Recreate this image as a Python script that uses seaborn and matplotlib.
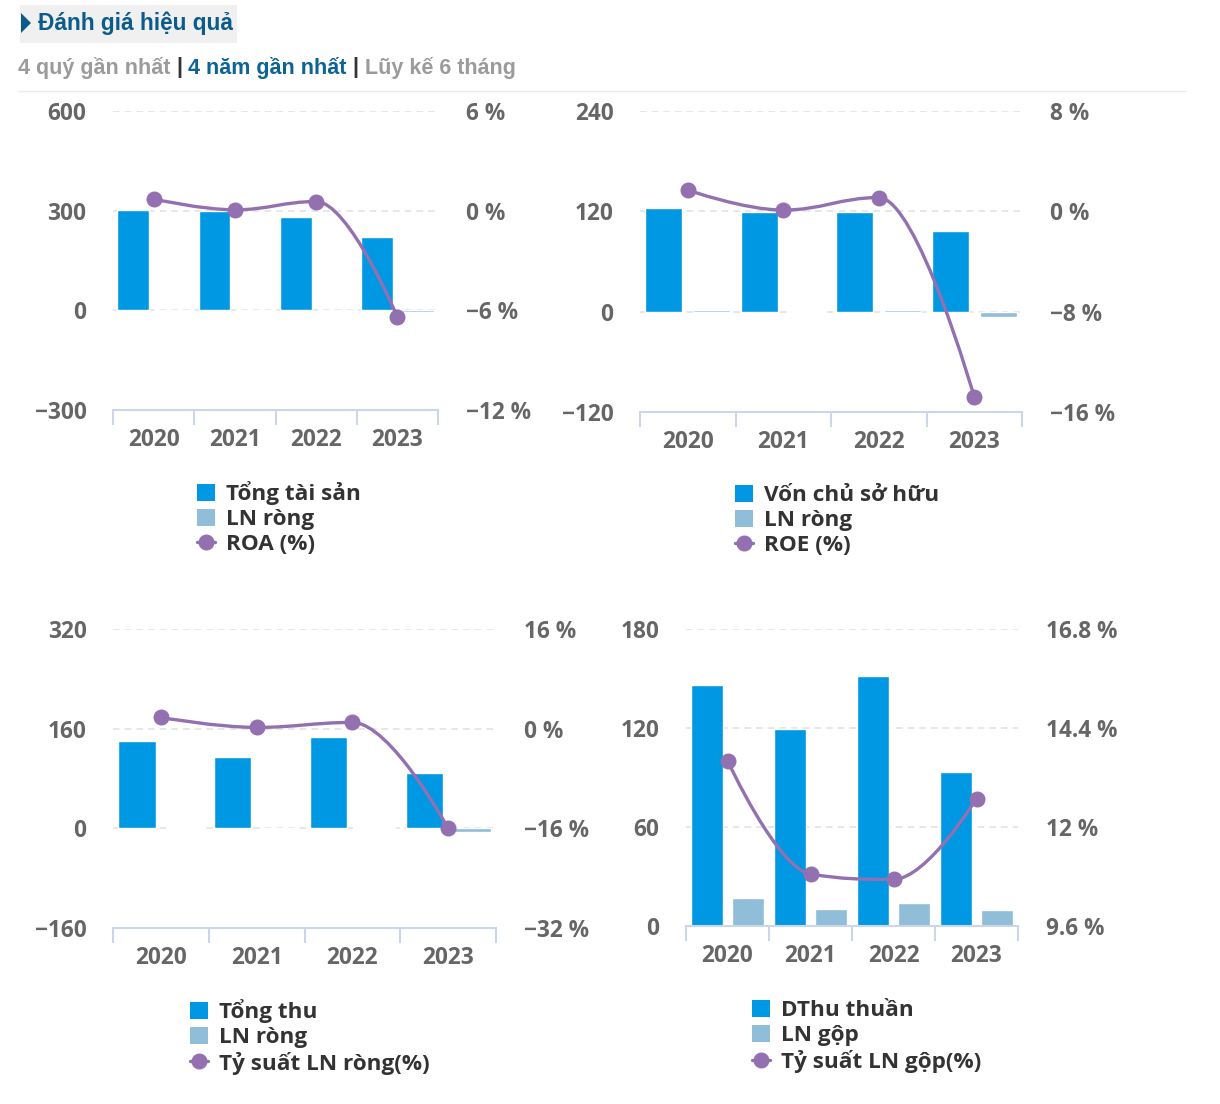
"""
Danh gia hieu qua - 4 nam gan nhat
Four bar + spline panels recreated with seaborn / matplotlib
"""

import matplotlib
matplotlib.use('Agg')
import matplotlib.pyplot as plt
import seaborn as sns
import pandas as pd
from matplotlib.path import Path
from matplotlib.patches import PathPatch, Patch, Rectangle, Polygon
from matplotlib.lines import Line2D
from matplotlib.ticker import FuncFormatter, FixedLocator

# ---- data -------------------------------------------------------------
years = ['2020', '2021', '2022', '2023']

tong_tai_san = [301, 300, 280, 220]
von_chu_so_huu = [124, 119.6, 119.6, 96]
tong_thu = [141, 115, 147, 89]
ln_rong = [2.1, 0.2, 1.5, -6]
roa = [0.7, 0.05, 0.55, -6.4]
roe = [1.7, 0.1, 1.1, -14.8]
ty_suat_ln_rong = [1.8, 0.2, 1.0, -16.0]

dthu_thuan = [146, 119.6, 151.3, 93.3]
ln_gop = [17, 10.5, 13.7, 9.5]
ty_suat_ln_gop = [13.61, 10.86, 10.73, 12.69]

left_ticks = [
    [-300, 0, 300, 600],
    [-120, 0, 120, 240],
    [-160, 0, 160, 320],
    [0, 60, 120, 180],
]
right_ticks = [
    [-12, -6, 0, 6],
    [-16, -8, 0, 8],
    [-32, -16, 0, 16],
    [9.6, 12, 14.4, 16.8],
]

# ---- style ------------------------------------------------------------
W, H = 1220, 1104
MAIN_BLUE = '#0098e3'
LN_BLUE = '#90bdd8'
PURPLE = '#9370b0'
AXIS_LINE = '#ccd6eb'
TICK_COLOR = '#666666'
TICK_SIZE = 16.3
LEGEND_SIZE = 16.2

sns.set_theme(style='white')
plt.rcParams['font.family'] = ['Open Sans', 'DejaVu Sans']
plt.rcParams['font.weight'] = 'bold'


def spline_path(xs, ys, smoothing=1.5):
    """Highcharts-like spline as cubic bezier path through the data points"""
    denom = smoothing + 1
    n = len(xs)
    right_cont = [None] * n
    left_cont = [None] * n
    for i in range(1, n - 1):
        x, y = xs[i], ys[i]
        lx, ly = xs[i - 1], ys[i - 1]
        nx, ny = xs[i + 1], ys[i + 1]
        lcx = (smoothing * x + lx) / denom
        lcy = (smoothing * y + ly) / denom
        rcx = (smoothing * x + nx) / denom
        rcy = (smoothing * y + ny) / denom
        corr = 0
        if rcx != lcx:
            corr = (rcy - lcy) * (rcx - x) / (rcx - lcx) + y - rcy
        lcy += corr
        rcy += corr
        if lcy > ly and lcy > y:
            lcy = max(ly, y)
            rcy = 2 * y - lcy
        elif lcy < ly and lcy < y:
            lcy = min(ly, y)
            rcy = 2 * y - lcy
        if rcy > ny and rcy > y:
            rcy = max(ny, y)
            lcy = 2 * y - rcy
        elif rcy < ny and rcy < y:
            rcy = min(ny, y)
            lcy = 2 * y - rcy
        left_cont[i] = (lcx, lcy)
        right_cont[i] = (rcx, rcy)

    verts = [(xs[0], ys[0])]
    codes = [Path.MOVETO]
    for i in range(1, n):
        c1 = right_cont[i - 1] or (xs[i - 1], ys[i - 1])
        c2 = left_cont[i] or (xs[i], ys[i])
        verts += [c1, c2, (xs[i], ys[i])]
        codes += [Path.CURVE4] * 3
    return Path(verts, codes)


def px_rect(left, top, right, bottom):
    return [left / W, 1 - bottom / H, (right - left) / W, (bottom - top) / H]


def draw_panel(fig, rect, bar_names, bar_values, line_name, line_values,
               lticks, rticks, legend_xy):
    ax = fig.add_axes(rect)

    rows = []
    for name, vals in zip(bar_names, bar_values):
        for yr, v in zip(years, vals):
            rows.append({'year': yr, 'series': name, 'value': v})
    df = pd.DataFrame(rows)

    sns.barplot(data=df, x='year', y='value', hue='series',
                palette=[MAIN_BLUE, LN_BLUE], width=1.0, gap=0.22,
                errorbar=None, saturation=1, legend=False, ax=ax, zorder=2)

    ax.set_xlim(-0.5, len(years) - 0.5)
    ax.set_ylim(lticks[0], lticks[-1])
    ax.set_yticks(lticks)
    ax.yaxis.set_major_formatter(FuncFormatter(
        lambda v, p: f'{v:g}'.replace('-', '\u2212')))
    ax.set_xlabel('')
    ax.set_ylabel('')

    for y in lticks[1:]:
        ax.axhline(y, color='#e3e3e3', lw=1.2, ls=(0, (4, 3)), zorder=0)

    for s in ['left', 'right', 'top']:
        ax.spines[s].set_visible(False)
    ax.spines['bottom'].set_color(AXIS_LINE)
    ax.spines['bottom'].set_linewidth(1.5)

    ax.xaxis.set_minor_locator(FixedLocator([i - 0.5 for i in range(len(years) + 1)]))
    ax.tick_params(axis='x', which='minor', length=11, width=1.5,
                   color=AXIS_LINE, direction='out', bottom=True)
    ax.tick_params(axis='x', which='major', length=0, pad=13,
                   labelsize=TICK_SIZE, labelcolor=TICK_COLOR)
    ax.tick_params(axis='y', length=0, pad=19, labelsize=TICK_SIZE,
                   labelcolor=TICK_COLOR)

    ax2 = ax.twinx()
    ax2.set_ylim(rticks[0], rticks[-1])
    ax2.set_yticks(rticks)
    ax2.yaxis.set_major_formatter(FuncFormatter(
        lambda v, p: f'{v:g} %'.replace('-', '\u2212')))
    ax2.tick_params(axis='y', length=0, pad=20, labelsize=TICK_SIZE,
                    labelcolor=TICK_COLOR)
    for s in ax2.spines.values():
        s.set_visible(False)
    ax2.grid(False)

    xs = list(range(len(years)))
    path = spline_path(xs, line_values)
    ax2.add_patch(PathPatch(path, fill=False, edgecolor=PURPLE, lw=2.4,
                            zorder=3, capstyle='round', joinstyle='round'))
    ax2.plot(xs, line_values, ls='none', marker='o', ms=10.5, color=PURPLE,
             zorder=4, clip_on=False)

    handles = [
        Patch(facecolor=MAIN_BLUE, edgecolor='none'),
        Patch(facecolor=LN_BLUE, edgecolor='none'),
        Line2D([0], [0], color=PURPLE, lw=2.4, marker='o', ms=10.5),
    ]
    fig.legend(handles, list(bar_names) + [line_name],
               loc='upper left',
               bbox_to_anchor=(legend_xy[0] / W, 1 - legend_xy[1] / H),
               frameon=False, fontsize=LEGEND_SIZE, labelcolor='#333333',
               handlelength=0.8, handleheight=0.8, handletextpad=0.5,
               labelspacing=0.16, borderpad=0, borderaxespad=0)
    return ax, ax2


fig = plt.figure(figsize=(W / 100, H / 100), dpi=100)

# ---- header -----------------------------------------------------------
fig.add_artist(Rectangle((20 / W, 1 - 43 / H), 217 / W, 38 / H,
                         transform=fig.transFigure, facecolor='#f0f0f0',
                         edgecolor='none'))
fig.add_artist(Polygon([(21 / W, 1 - 13 / H), (21 / W, 1 - 33 / H),
                        (31 / W, 1 - 23 / H)], closed=True,
                       transform=fig.transFigure, facecolor='#0b5c8d',
                       edgecolor='none'))
fig.text(38 / W, 1 - 23 / H, 'Đánh giá hiệu quả', ha='left', va='center',
         fontsize=16.3, fontweight='bold', color='#0b5c8d',
         family=['Liberation Sans', 'DejaVu Sans'])

fig.add_artist(Line2D([18 / W, 1186 / W], [1 - 91 / H, 1 - 91 / H],
                      transform=fig.transFigure, color='#ebebeb', lw=1))

renderer = fig.canvas.get_renderer()
x_cursor = 18
parts = [('4 quý gần nhất ', '#9b9b9b'), ('|', '#333333'),
         (' 4 năm gần nhất ', '#0b6396'), ('|', '#333333'),
         (' Lũy kế 6 tháng', '#9b9b9b')]
for txt, col in parts:
    t = fig.text(x_cursor / W, 1 - 68 / H, txt, ha='left', va='center',
                 fontsize=15.5, fontweight='bold', color=col,
                 family=['Liberation Sans', 'DejaVu Sans'])
    bb = t.get_window_extent(renderer)
    x_cursor += bb.width

# ---- panels -----------------------------------------------------------
draw_panel(fig, px_rect(113, 111, 438, 410),
           ['Tổng tài sản', 'LN ròng'], [tong_tai_san, ln_rong],
           'ROA (%)', roa, left_ticks[0], right_ticks[0], (197, 481))

draw_panel(fig, px_rect(640, 111, 1022, 412),
           ['Vốn chủ sở hữu', 'LN ròng'], [von_chu_so_huu, ln_rong],
           'ROE (%)', roe, left_ticks[1], right_ticks[1], (735, 485))

draw_panel(fig, px_rect(113, 629, 496, 928),
           ['Tổng thu', 'LN ròng'], [tong_thu, ln_rong],
           'Tỷ suất LN ròng(%)', ty_suat_ln_rong, left_ticks[2],
           right_ticks[2], (190, 999))

draw_panel(fig, px_rect(686, 629, 1018, 926),
           ['DThu thuần', 'LN gộp'], [dthu_thuan, ln_gop],
           'Tỷ suất LN gộp(%)', ty_suat_ln_gop, left_ticks[3],
           right_ticks[3], (752, 1000))

fig.savefig('out.png', dpi=100)
plt.close(fig)
